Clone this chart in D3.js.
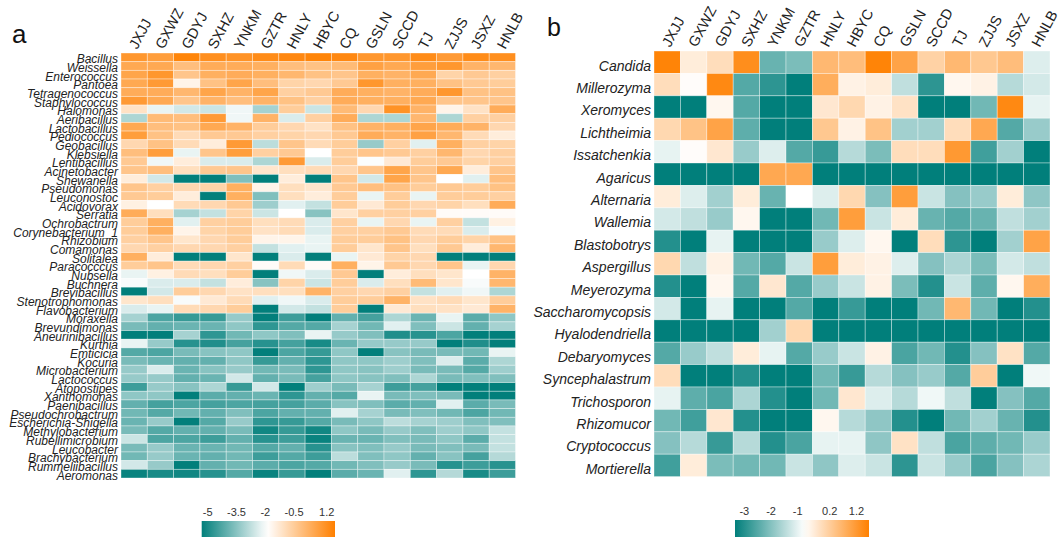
<!DOCTYPE html>
<html>
<head>
<meta charset="utf-8">
<script src="https://cdn.jsdelivr.net/npm/d3@7"></script>
<style>
  body { margin: 0; background: #fff; }
  text { font-family: Arial, "Liberation Sans", sans-serif; }
</style>
</head>
<body>
<svg width="1063" height="537"></svg>
<script>
var sites = ["JXJJ","GXWZ","GDYJ","SXHZ","YNKM","GZTR","HNLY","HBYC","CQ","GSLN","SCCD","TJ","ZJJS","JSXZ","HNLB"];

var bacteria = ["Bacillus","Weissella","Enterococcus","Pantoea","Tetragenococcus","Staphylococcus","Halomonas",
  "Aeribacillus","Lactobacillus","Pediococcus","Geobacillus","Klebsiella","Lentibacillus","Acinetobacter",
  "Shewanella","Pseudomonas","Leuconostoc","Acidovorax","Serratia","Ochrobactrum","Corynebacterium_1",
  "Rhizobium","Comamonas","Solitalea","Paracocccus","Nubsella","Buchnera","Brevibacillus","Stenotrophomonas",
  "Flavobacterium","Moraxella","Brevundimonas","Aneurinibacillus","Kurthia","Emticicia","Kocuria",
  "Microbacterium","Lactococcus","Atopostipes","Xanthomonas","Paenibacillus","Pseudochrobactrum",
  "Escherichia-Shigella","Methylobacterium","Rubellimicrobium","Leucobacter","Brachybacterium",
  "Rummeliibacillus","Aeromonas"];

// one row per genus, columns in the order of sites
var bacteriaValues = [
  [1.0,0.8,1.5,1.2,1.1,1.3,1.4,1.5,1.4,1.0,1.0,1.3,0.9,1.3,1.2],
  [0.5,0.5,-0.1,0.4,0.4,0.3,-0.1,-0.2,0.0,0.7,0.5,0.8,1.0,0.2,0.1],
  [0.6,1.0,-0.3,0.3,0.4,0.3,0.1,-0.2,-0.3,0.3,0.2,0.5,-0.7,-0.4,-0.6],
  [0.5,0.9,-1.6,-0.2,0.6,-0.1,-0.7,-0.8,-0.4,1.0,0.3,0.3,-0.2,-0.4,-0.5],
  [0.4,0.4,0.1,0.6,0.2,0.6,-0.6,-0.4,0.4,0.3,0.2,0.4,1.0,-0.2,-0.2],
  [0.9,0.5,-0.3,0.2,-0.1,0.2,-0.2,-0.6,0.4,0.3,0.3,0.5,-0.3,-0.3,-0.3],
  [-1.1,-2.2,-2.5,-2.6,-2.1,-3.1,-0.5,-2.6,0.0,-0.8,1.1,0.2,-1.6,-1.1,0.4],
  [-3.0,0.0,-0.1,0.9,-2.1,0.2,-2.4,-0.6,0.4,-3.0,-3.0,0.1,-3.0,-0.6,-0.6],
  [0.5,-0.1,-0.2,0.5,0.2,-0.5,-0.8,-1.1,-0.2,0.2,0.3,0.6,0.4,0.2,-0.8],
  [0.8,-0.2,-0.9,-0.4,-0.4,-0.6,-0.7,-0.8,-0.4,0.4,0.2,0.7,0.1,-0.9,-1.4],
  [-0.8,-0.2,-0.9,-1.4,0.9,-2.8,-0.3,-0.9,-0.5,-3.3,-0.6,-2.3,0.3,-0.6,-0.7],
  [-0.1,0.8,-2.2,-0.3,0.8,-0.6,-0.4,-1.9,-0.5,-0.3,-0.4,-0.6,0.1,-0.8,-0.6],
  [-0.4,-2.1,-1.4,-2.4,-2.4,-3.0,0.9,-2.4,-0.5,-1.95,-1.3,-0.5,-0.4,-0.7,-0.6],
  [-0.3,-0.1,-1.0,-0.4,-0.3,-1.2,-1.0,-0.9,-0.8,-0.3,0.6,-0.3,0.5,-1.4,-0.3],
  [-1.4,-2.5,-5.3,-5.3,-3.6,-5.3,-1.4,-5.3,-0.3,-2.5,0.6,-0.3,-1.9,-2.3,-0.1],
  [-0.3,-0.6,-0.8,-0.7,0.3,-1.6,-1.0,-1.2,-0.4,-0.1,-0.2,-0.5,-0.4,-0.5,-0.2],
  [-0.4,-0.5,-1.4,-5.3,0.3,-3.6,-1.0,-1.4,-0.5,-2.2,-0.5,-2.2,-0.5,-0.5,-0.6],
  [-1.5,-1.9,-0.9,-0.8,-0.4,-3.2,-2.3,-2.7,-0.5,-1.3,-0.5,-0.8,-0.7,-1.0,0.4],
  [0.4,-1.0,-3.1,-2.7,-0.7,-2.6,-1.9,-3.5,-1.2,-0.6,-0.6,-0.6,-1.8,-1.8,-1.8],
  [-0.5,0.3,-2.3,-0.6,-0.5,-1.0,-0.9,-2.4,-0.6,-2.2,-0.8,-2.2,-0.6,-2.7,-1.5],
  [-0.5,0.3,-1.6,-0.7,-0.5,-1.1,-0.9,-2.4,-0.6,-0.6,-0.4,-0.9,-0.9,-2.4,-2.0],
  [-0.6,-0.3,-1.2,-0.8,-0.5,-1.6,-1.6,-2.2,-0.5,-0.5,-0.2,-0.8,-0.5,-0.7,-0.2],
  [-0.8,-0.6,-0.8,-0.8,-0.6,-2.7,-2.3,-2.2,-0.5,-1.2,-0.3,-1.0,-0.4,-1.4,0.1],
  [0.3,-1.4,-5.3,-5.3,-1.2,-5.3,-2.4,-5.3,-2.2,-1.3,-0.7,-0.8,-5.3,-5.3,-5.3],
  [-0.5,-0.3,-0.9,-0.8,-0.6,-1.8,-0.9,-1.8,0.3,-1.6,-0.4,-0.8,-0.3,-2.2,-0.8],
  [-2.2,-1.5,-0.9,-1.0,-0.5,-5.3,-2.1,-2.4,-0.4,-5.3,-1.4,-1.0,-1.2,-1.9,0.2],
  [-2.0,-2.4,-2.4,-2.7,-1.4,-3.5,-0.7,-2.6,-0.5,-2.4,-1.0,0.0,-1.2,-2.0,0.1],
  [-5.3,-2.5,-0.5,-0.8,-1.1,-1.0,-1.0,0.2,-0.6,-0.8,-0.6,-2.7,-2.3,-2.1,-3.0],
  [-1.2,-1.0,-2.0,-1.3,-0.9,-2.3,-2.1,-2.4,-0.5,-0.5,0.2,-1.1,-0.9,-1.2,-0.5],
  [-2.4,-2.2,-0.9,-0.8,-0.5,-5.3,-2.5,-2.7,-0.5,-5.3,-1.3,-1.0,-1.1,-1.3,0.2],
  [-3.1,-4.3,-4.6,-4.6,-3.3,-5.3,-4.5,-5.3,-4.0,-4.4,-3.0,-3.9,-2.2,-4.1,-3.4],
  [-3.7,-4.0,-3.9,-3.9,-3.4,-4.7,-4.2,-4.2,-3.1,-3.8,-2.3,-3.6,-2.6,-4.0,-3.1],
  [-5.3,-5.3,-3.1,-4.7,-3.8,-3.4,-3.6,-2.2,-3.3,-3.6,-4.9,-4.8,-4.3,-5.3,-5.3],
  [-2.2,-3.3,-4.8,-4.9,-4.4,-4.8,-4.4,-5.0,-3.9,-3.3,-3.3,-3.3,-5.3,-4.9,-5.3],
  [-4.2,-4.3,-3.7,-3.5,-3.4,-5.3,-4.3,-4.6,-3.4,-5.3,-3.5,-3.7,-3.7,-3.8,-2.2],
  [-3.7,-3.9,-4.0,-4.0,-3.4,-4.6,-4.0,-4.7,-3.4,-3.4,-3.2,-3.6,-2.4,-4.1,-3.0],
  [-3.3,-2.4,-3.9,-3.5,-3.3,-3.8,-3.7,-4.7,-3.4,-3.5,-3.2,-3.7,-3.7,-4.2,-3.2],
  [-3.3,-3.3,-4.0,-3.9,-2.5,-4.0,-3.7,-4.4,-3.4,-3.5,-3.6,-3.0,-3.7,-3.6,-3.6],
  [-4.5,-3.3,-3.5,-3.0,-4.6,-2.5,-5.3,-3.2,-3.7,-3.1,-4.5,-4.4,-5.3,-5.3,-5.3],
  [-3.4,-3.4,-5.3,-4.1,-4.0,-3.9,-4.7,-4.0,-4.2,-2.2,-3.7,-3.6,-3.7,-5.3,-5.3],
  [-4.0,-4.4,-4.3,-4.4,-4.3,-4.4,-4.4,-4.1,-3.5,-3.6,-4.1,-4.0,-2.3,-4.1,-3.7],
  [-3.8,-4.2,-3.8,-4.0,-3.6,-4.3,-4.0,-4.0,-2.3,-3.1,-3.7,-3.6,-3.8,-4.3,-3.8],
  [-3.9,-3.3,-5.3,-4.2,-3.3,-4.7,-4.6,-4.2,-3.7,-3.4,-2.8,-3.1,-3.2,-3.6,-3.6],
  [-3.7,-4.2,-4.0,-4.0,-3.7,-5.1,-4.6,-5.1,-3.4,-3.7,-3.3,-3.6,-3.2,-3.4,-2.7],
  [-2.6,-4.3,-4.3,-4.5,-4.0,-4.8,-4.5,-5.2,-3.9,-3.9,-3.6,-3.7,-3.4,-4.1,-2.7],
  [-3.7,-3.3,-3.9,-3.9,-3.8,-4.2,-4.0,-4.8,-3.5,-3.6,-3.3,-3.7,-3.6,-3.7,-2.7],
  [-3.8,-3.3,-3.9,-4.0,-3.8,-4.5,-4.2,-4.5,-2.8,-3.6,-3.4,-4.0,-3.5,-4.4,-2.9],
  [-2.5,-3.3,-5.3,-4.0,-3.8,-4.1,-4.3,-4.2,-3.8,-3.6,-3.3,-3.7,-4.8,-4.5,-4.8],
  [-5.2,-5.0,-5.1,-4.8,-4.2,-5.2,-4.6,-5.3,-4.1,-3.9,-2.3,-4.7,-2.9,-5.0,-4.5]
];

var fungi = ["Candida","Millerozyma","Xeromyces","Lichtheimia","Issatchenkia","Agaricus","Alternaria",
  "Wallemia","Blastobotrys","Aspergillus","Meyerozyma","Saccharomycopsis","Hyalodendriella",
  "Debaryomyces","Syncephalastrum","Trichosporon","Rhizomucor","Cryptococcus","Mortierella"];

var fungiValues = [
  [1.6,-0.4,-0.1,1.4,-2.3,-2.1,0.6,0.5,1.6,1.0,0.1,0.6,0.3,0.5,-1.1],
  [-0.1,-0.7,1.5,-2.5,-2.9,-3.35,0.8,-0.5,-0.4,-1.4,-2.9,-0.6,-0.5,-1.5,-1.2],
  [-3.35,-3.35,-0.6,-2.5,-3.35,-3.35,-0.3,0.0,-0.5,-0.2,-3.35,-3.35,-2.2,1.5,-1.0],
  [0.0,0.4,1.0,-2.4,-3.35,-3.35,0.3,-0.5,0.4,-1.7,-1.7,-0.1,0.9,-2.5,-1.8],
  [-1.0,-0.7,-0.3,-1.8,-1.1,-2.5,-2.8,-1.5,-2.1,-0.1,-0.1,1.2,-2.7,-1.7,-3.35],
  [-3.35,-3.35,-3.35,-3.35,0.9,0.9,-3.35,-3.35,-3.35,-3.35,-3.35,-3.35,-3.35,-3.35,-3.35],
  [-0.4,-1.1,-1.7,-0.4,-2.3,-0.75,-1.1,0.0,-2.0,1.1,-1.3,-2.0,-1.8,-0.4,-1.9],
  [-1.2,-1.4,-1.8,-0.6,-3.35,-3.35,-2.2,1.1,-1.3,-0.4,-2.3,-2.5,-2.3,-1.4,-1.7],
  [-3.0,-3.35,-1.0,-3.35,-3.35,-3.35,-1.8,-1.1,-0.6,-3.35,-0.1,-2.9,-3.35,-1.7,1.0],
  [0.0,-1.4,-0.5,-2.2,-2.5,-1.3,1.1,-0.4,-0.5,-1.1,-2.0,-1.6,-2.1,-1.2,-1.4],
  [-3.0,-3.35,-0.6,-2.5,-0.3,-2.5,-1.8,-1.3,-0.5,-2.1,-3.0,-1.3,-2.4,-0.6,0.8],
  [-1.2,-3.35,-1.0,-3.35,-3.35,-2.5,-3.35,-2.8,-3.35,-3.35,-2.2,0.6,-2.2,-3.35,-3.0],
  [-3.35,-3.35,-3.35,-3.35,-1.7,0.0,-3.35,-3.35,-3.35,-3.35,-3.35,-3.35,-3.35,-3.35,-3.35],
  [-2.5,-1.8,-1.4,-0.4,-1.0,-2.5,-1.8,-1.3,-0.5,-2.6,-2.2,-3.0,-2.0,-0.2,-2.5],
  [-0.1,-3.35,-3.35,-3.0,-3.35,-3.35,-2.2,-2.8,-1.5,-2.0,-1.8,-2.5,0.2,-3.35,-0.9],
  [-1.0,-2.4,-2.6,-1.6,-3.0,-3.35,-2.2,-0.3,-1.1,-1.5,-0.9,-1.4,-3.35,-2.0,-2.5],
  [-2.2,-2.7,-0.3,-3.0,-3.35,-3.35,-0.6,-1.5,-1.9,-3.0,-3.35,-2.2,-1.7,-2.3,-3.0],
  [-2.0,-1.5,-2.8,-1.5,-3.0,-2.6,-1.0,-1.0,-1.9,-0.2,-1.4,-2.6,-2.4,-2.2,-1.8],
  [-2.7,-0.4,-2.1,-2.2,-2.2,-1.3,-1.9,-1.1,-1.3,-2.9,-1.3,-1.8,-2.6,-2.0,-1.6]
];

var ticksA = [-5, -3.5, -2, -0.5, 1.2];
var ticksB = [-3, -2, -1, 0.2, 1.2];

var svg = d3.select("svg");
var teal = "#017f7b", orange = "#ff8000";

function drawPanel(p) {
  var g = svg.append("g");
  var x = d3.scaleBand().domain(sites).range([p.left, p.right]);
  var y = d3.scaleBand().domain(p.rows).range([p.top, p.bottom]);
  var color = d3.scaleLinear().domain(p.colorDomain).range([teal, "#ffffff", orange]).clamp(true);

  var cells = [];
  p.values.forEach(function(row, i) {
    row.forEach(function(v, j) {
      cells.push({ row: p.rows[i], site: sites[j], value: v });
    });
  });

  g.append("g").selectAll("rect")
    .data(cells)
    .enter().append("rect")
      .attr("x", function(d) { return x(d.site); })
      .attr("y", function(d) { return y(d.row); })
      .attr("width", x.bandwidth())
      .attr("height", y.bandwidth())
      .attr("fill", function(d) { return color(d.value); })
      .attr("stroke", "rgba(255,255,255,0.45)")
      .attr("stroke-width", 0.8);

  // row labels (they crowd each other in panel a, as in the original)
  g.append("g").selectAll("text")
    .data(p.rows)
    .enter().append("text")
      .attr("x", p.left - 3)
      .attr("y", function(d) { return y(d) + p.labelDy; })
      .attr("text-anchor", "end")
      .attr("font-style", "italic")
      .attr("font-size", p.rowFont)
      .attr("fill", "#222")
      .text(function(d) { return d; });

  // rotated column labels
  g.append("g").selectAll("text")
    .data(sites)
    .enter().append("text")
      .attr("transform", function(d) {
        return "translate(" + (x(d) + x.bandwidth() / 2 + 3) + "," + (p.top - 3) + ")rotate(-62)";
      })
      .attr("font-size", 14.5)
      .attr("fill", "#222")
      .text(function(d) { return d; });

  // panel letter
  g.append("text")
    .attr("x", p.letterX).attr("y", p.letterY)
    .attr("font-size", p.letterSize)
    .attr("fill", "#111")
    .text(p.letter);

  // colour key
  var lx = d3.scaleLinear().domain([p.colorDomain[0], p.colorDomain[2]]).range(p.legendRange);
  var grad = svg.append("defs").append("linearGradient").attr("id", "grad-" + p.letter);
  d3.range(0, 1.0001, 0.05).forEach(function(t) {
    var v = p.colorDomain[0] + t * (p.colorDomain[2] - p.colorDomain[0]);
    grad.append("stop").attr("offset", t).attr("stop-color", color(v));
  });
  g.append("rect")
    .attr("x", p.legendRange[0]).attr("y", p.legendY)
    .attr("width", p.legendRange[1] - p.legendRange[0]).attr("height", 20)
    .attr("fill", "url(#grad-" + p.letter + ")");
  g.append("g").selectAll("text")
    .data(p.ticks)
    .enter().append("text")
      .attr("x", function(d) { return lx(d); })
      .attr("y", p.legendY - 5)
      .attr("text-anchor", "middle")
      .attr("font-size", 11)
      .attr("fill", "#333")
      .text(function(d) { return d; });
}

drawPanel({
  letter: "a", letterX: 12, letterY: 43, letterSize: 26,
  rows: bacteria, values: bacteriaValues,
  left: 121, right: 515.5, top: 53, bottom: 478,
  rowFont: 12, labelDy: 10.2,
  colorDomain: [-5.31, -1.9, 1.63],
  legendRange: [201.7, 335], legendY: 521, ticks: ticksA
});

drawPanel({
  letter: "b", letterX: 547, letterY: 36, letterSize: 25,
  rows: fungi, values: fungiValues,
  left: 654, right: 1050, top: 51, bottom: 476.6,
  rowFont: 14, labelDy: 19.6,
  colorDomain: [-3.35, -0.75, 1.67],
  legendRange: [735, 869], legendY: 520, ticks: ticksB
});
</script>
</body>
</html>
